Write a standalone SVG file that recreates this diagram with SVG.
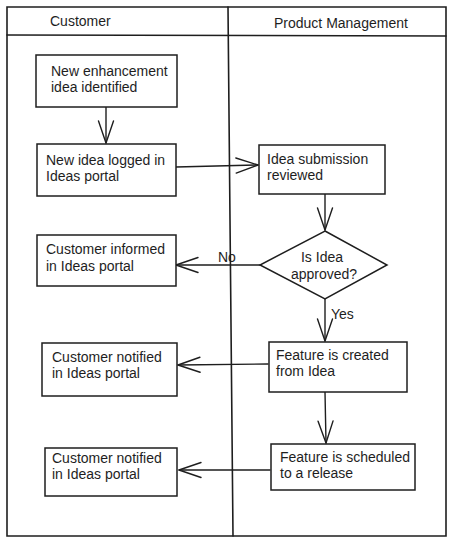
<svg xmlns="http://www.w3.org/2000/svg" width="456" height="545" viewBox="0 0 456 545">
<defs>
<style>
.frame{fill:none;stroke:#1e1e1e;stroke-width:1.6;stroke-linecap:round}
.box{fill:#ffffff;stroke:#1e1e1e;stroke-width:1.5}
.conn{fill:none;stroke:#1e1e1e;stroke-width:1.4;stroke-linecap:round}
text{font-family:"Liberation Sans",Arial,sans-serif;font-size:14px;fill:#1e1e1e}
</style>
<marker id="arr" markerUnits="userSpaceOnUse" markerWidth="30" markerHeight="20" viewBox="-24 -10 28 20" refX="0" refY="0" orient="auto" overflow="visible">
<path d="M-22,-7.5 L0,0 L-22,7.5" fill="none" stroke="#1e1e1e" stroke-width="1.4" stroke-linecap="round" stroke-linejoin="round"/>
</marker>
</defs>
<rect width="456" height="545" fill="#ffffff"/>
<g id="lanes">
<path class="frame" d="M7,7 L446,7 L446,536 L7,536 Z"/>
<path class="frame" d="M7,35 L446,36"/>
<path class="frame" d="M228,7 L233,536"/>
<text x="50" y="26">Customer</text>
<text x="274" y="28">Product Management</text>
</g>
<g id="connectors">
<path class="conn" d="M106,107 L106,143" marker-end="url(#arr)"/>
<path class="conn" d="M176,167 L258,165" marker-end="url(#arr)"/>
<path class="conn" d="M325,194 L325,230" marker-end="url(#arr)"/>
<path class="conn" d="M260,265 L176,265" marker-end="url(#arr)"/>
<path class="conn" d="M325,299 L325,341" marker-end="url(#arr)"/>
<path class="conn" d="M268,364 L178,365" marker-end="url(#arr)"/>
<path class="conn" d="M325,392 L326,443" marker-end="url(#arr)"/>
<path class="conn" d="M270,470 L179,470" marker-end="url(#arr)"/>
<text x="218" y="262">No</text>
<text x="331" y="319">Yes</text>
</g>
<g id="n1">
<rect class="box" x="36" y="55" width="141" height="52"/>
<text x="51" y="76">New enhancement</text>
<text x="51" y="92">idea identified</text>
</g>
<g id="n2">
<rect class="box" x="37" y="144" width="139" height="52"/>
<text x="46" y="165">New idea logged in</text>
<text x="46" y="181">Ideas portal</text>
</g>
<g id="n3">
<rect class="box" x="259" y="145" width="126" height="49"/>
<text x="267" y="164">Idea submission</text>
<text x="267" y="180">reviewed</text>
</g>
<g id="n4">
<path class="box" d="M325,231 L387,265 L325,299 L260,265 Z"/>
<text x="322" y="262" text-anchor="middle">Is Idea</text>
<text x="324" y="279" text-anchor="middle">approved?</text>
</g>
<g id="n5">
<rect class="box" x="37" y="235" width="139" height="51"/>
<text x="46" y="254">Customer informed</text>
<text x="46" y="271">in Ideas portal</text>
</g>
<g id="n6">
<rect class="box" x="269" y="342" width="138" height="50"/>
<text x="276" y="360">Feature is created</text>
<text x="276" y="376">from Idea</text>
</g>
<g id="n7">
<rect class="box" x="42" y="343" width="135" height="53"/>
<text x="52" y="362">Customer notified</text>
<text x="52" y="378">in Ideas portal</text>
</g>
<g id="n8">
<rect class="box" x="271" y="444" width="144" height="46"/>
<text x="280" y="462">Feature is scheduled</text>
<text x="280" y="478">to a release</text>
</g>
<g id="n9">
<rect class="box" x="45" y="448" width="132" height="48"/>
<text x="52" y="463">Customer notified</text>
<text x="52" y="479">in Ideas portal</text>
</g>
</svg>
